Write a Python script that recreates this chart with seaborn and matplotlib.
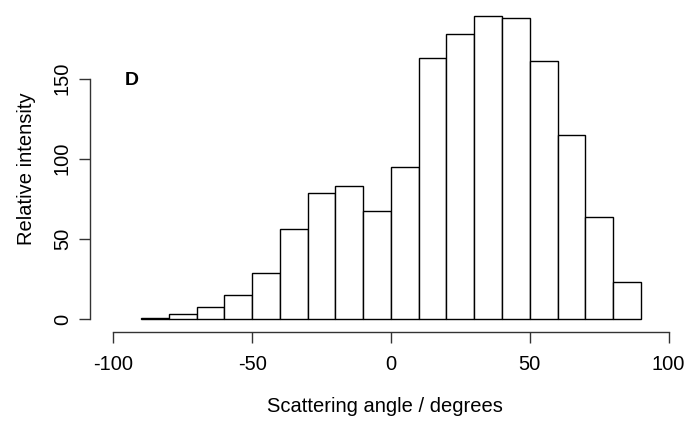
import numpy as np
import pandas as pd
import matplotlib
matplotlib.use("Agg")
import matplotlib.pyplot as plt
import seaborn as sns

# histogram: 10 degree bins from -90 to 90
bin_left = [-90, -80, -70, -60, -50, -40, -30, -20, -10, 0, 10, 20, 30, 40, 50, 60, 70, 80]
intensity = [0.5, 2.9, 7.5, 15, 28.9, 56, 78.8, 83.2, 67.4, 94.7, 163, 178, 189.3, 188, 160.8, 115, 63.5, 22.9]
x_ticks = [-100, -50, 0, 50, 100]
y_ticks = [0, 50, 100, 150]

df = pd.DataFrame({"angle": np.array(bin_left) + 5, "intensity": intensity})
edges = bin_left + [bin_left[-1] + 10]

sns.set_style("ticks")
plt.rcParams["font.family"] = ["Liberation Sans", "DejaVu Sans"]
plt.rcParams["axes.unicode_minus"] = False
plt.rcParams["text.color"] = "black"
plt.rcParams["axes.labelcolor"] = "black"
plt.rcParams["xtick.color"] = "black"
plt.rcParams["ytick.color"] = "black"

fig = plt.figure(figsize=(6.87, 4.21), dpi=100)
ax = fig.add_axes([90 / 687, (421 - 332.3) / 421, 590 / 687, 327.3 / 421])

sns.histplot(data=df, x="angle", weights="intensity", bins=edges,
             color="white", edgecolor="black", linewidth=1, alpha=1, ax=ax)

ax.set_xlim(-108.4, 104.1)
ax.set_ylim(-8.3, 196.0)
ax.set_xticks(x_ticks)
ax.set_yticks(y_ticks)
ax.set_yticklabels([str(t) for t in y_ticks], rotation=90, va="center")

for s in ["top", "right"]:
    ax.spines[s].set_visible(False)
ax.spines["left"].set_bounds(0, 150)
ax.spines["bottom"].set_bounds(-100, 100)
for s in ["left", "bottom"]:
    ax.spines[s].set_linewidth(1)
    ax.spines[s].set_color("#333333")

ax.tick_params(axis="both", direction="out", length=8, width=1, color="#333333",
               labelsize=14.5, labelcolor="black")
ax.tick_params(axis="x", pad=8)
ax.tick_params(axis="y", pad=5)

ax.set_xlabel("Scattering angle / degrees", fontsize=14.5, labelpad=17)
ax.set_ylabel("Relative intensity", fontsize=14.5, labelpad=12)

ax.text(-93.4, 148.6, "D", fontsize=14, fontweight="bold", ha="center", va="center")

fig.savefig("out.png", dpi=100)
